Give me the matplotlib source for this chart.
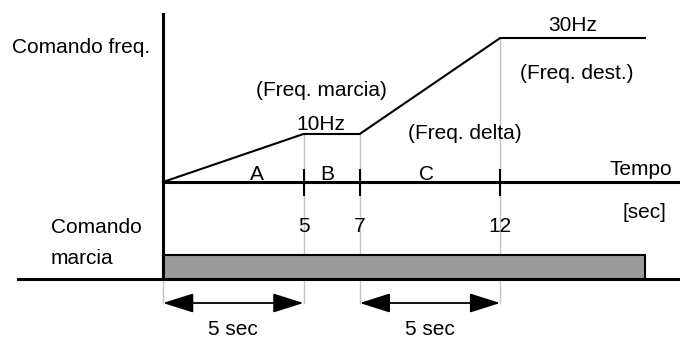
import matplotlib
matplotlib.use('Agg')
import matplotlib.pyplot as plt
from matplotlib.patches import Rectangle, FancyArrowPatch

plt.rcParams['font.family'] = ['Liberation Sans', 'DejaVu Sans']

# data: frequency command profile (seconds, Hz)
times = [0, 5, 7, 12, 17.15]
freq = [0, 10, 10, 30, 30]
tick_times = [5, 7, 12]
tick_labels = ['5', '7', '12']
seg_labels = ['A', 'B', 'C']
run_start, run_end = 0, 17.15
spans = [(0, 5), (7, 12)]
span_labels = ['5 sec', '5 sec']

# layout (pixels of the 680x340 picture)
W, H = 680, 340
X0, SX = 163, 28.1   # px of t=0, px per second
Y0, SY = 182, 4.8    # px of 0 Hz, px per Hz

def xp(p):
    return (p - X0) / SX

def yp(p):
    return (Y0 - p) / SY

fig = plt.figure(figsize=(W / 100, H / 100), dpi=100)
ax = fig.add_axes([0, 0, 1, 1])
ax.set_xlim(xp(0), xp(W))
ax.set_ylim(yp(H), yp(0))
ax.axis('off')

FS = 15
grey = '#c4c4c4'

# grey guide lines
ax.plot([times[1]] * 2, [freq[1], yp(303)], color=grey, lw=1, zorder=1)
ax.plot([times[2]] * 2, [freq[2], yp(303)], color=grey, lw=1, zorder=1)
ax.plot([times[3]] * 2, [freq[3], yp(303)], color=grey, lw=1, zorder=1)
ax.plot([run_start] * 2, [yp(279), yp(303)], color=grey, lw=1, zorder=1)

# axes lines
ax.plot([0, 0], [yp(14), yp(279)], color='black', lw=2.2, zorder=4)
ax.plot([0, xp(W)], [0, 0], color='black', lw=2.2, zorder=4)
ax.plot([xp(18), xp(W)], [yp(279), yp(279)], color='black', lw=2.2, zorder=4)

# frequency profile
ax.plot(times, freq, color='black', lw=1.5, zorder=3, solid_joinstyle='miter')

# ticks on time axis
for t, lab in zip(tick_times, tick_labels):
    ax.plot([t, t], [yp(170), yp(195)], color='black', lw=1.5, zorder=4)
    ax.text(t, yp(232), lab, ha='center', va='baseline', fontsize=FS)

# run command bar
ax.add_patch(Rectangle((run_start, yp(279)), run_end - run_start, yp(255) - yp(279),
                       facecolor='#9b9b9b', edgecolor='black', lw=1.5, zorder=2))

# span arrows
for (a, b), lab in zip(spans, span_labels):
    arr = FancyArrowPatch((a, yp(303)), (b, yp(303)),
                          arrowstyle='<|-|>,head_length=19,head_width=6',
                          mutation_scale=1, shrinkA=0, shrinkB=0,
                          color='black', lw=1.3, zorder=3)
    ax.add_patch(arr)
    ax.text((a + b) / 2, yp(335), lab, ha='center', va='baseline', fontsize=FS)

# labels
ax.text(xp(12), yp(53), 'Comando freq.', ha='left', va='baseline', fontsize=FS)
ax.text(xp(321), yp(96), '(Freq. marcia)', ha='center', va='baseline', fontsize=FS)
ax.text(xp(321), yp(130), '10Hz', ha='center', va='baseline', fontsize=FS)
ax.text(xp(573), yp(31), '30Hz', ha='center', va='baseline', fontsize=FS)
ax.text(xp(577), yp(79), '(Freq. dest.)', ha='center', va='baseline', fontsize=FS)
ax.text(xp(465), yp(139), '(Freq. delta)', ha='center', va='baseline', fontsize=FS)
for x, lab in zip([257, 327, 427], seg_labels):
    ax.text(xp(x), yp(180), lab, ha='center', va='baseline', fontsize=FS)
ax.text(xp(672), yp(175), 'Tempo', ha='right', va='baseline', fontsize=FS)
ax.text(xp(644), yp(218), '[sec]', ha='center', va='baseline', fontsize=FS)
ax.text(xp(51), yp(233), 'Comando', ha='left', va='baseline', fontsize=FS)
ax.text(xp(51), yp(264), 'marcia', ha='left', va='baseline', fontsize=FS)

fig.savefig('out.png', dpi=100)
